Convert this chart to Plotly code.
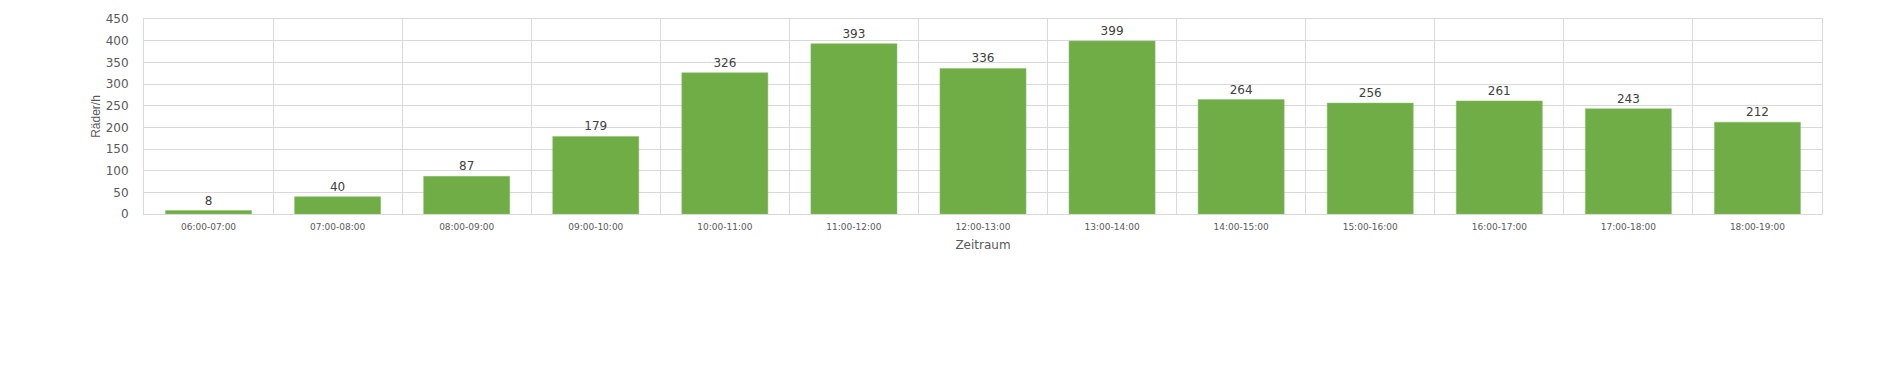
import plotly.graph_objects as go

categories = ["06:00-07:00", "07:00-08:00", "08:00-09:00", "09:00-10:00", "10:00-11:00",
              "11:00-12:00", "12:00-13:00", "13:00-14:00", "14:00-15:00", "15:00-16:00",
              "16:00-17:00", "17:00-18:00", "18:00-19:00"]
values = [8, 40, 87, 179, 326, 393, 336, 399, 264, 256, 261, 243, 212]
y_ticks = [0, 50, 100, 150, 200, 250, 300, 350, 400, 450]

text_color = "#404040"
tick_color = "#595959"
grid_color = "#d9d9d9"

fig = go.Figure(go.Bar(
    x=categories, y=values,
    marker=dict(color="#70AD47", line=dict(color="#8fbf6f", width=0.5)),
    text=[str(v) for v in values], textposition="outside", cliponaxis=False,
    textfont=dict(family="DejaVu Sans", size=12, color=text_color),
))

fig.update_layout(
    width=1903, height=367,
    margin=dict(l=144, r=81, t=15, b=153),
    paper_bgcolor="white", plot_bgcolor="white",
    bargap=0.333, showlegend=False,
    font=dict(family="DejaVu Sans", color=text_color),
)
fig.update_xaxes(
    type="category", tickson="boundaries", showgrid=True, gridcolor=grid_color, gridwidth=1,
    showline=True, linecolor=grid_color, mirror=True,
    ticks="", ticklabelstandoff=4, tickfont=dict(size=9, color=tick_color),
    title=dict(text="Zeitraum", font=dict(family="DejaVu Sans", size=12, color=tick_color), standoff=9),
)
fig.update_yaxes(
    range=[0, 450], tickvals=y_ticks, showgrid=True, gridcolor=grid_color, gridwidth=1,
    showline=True, linecolor=grid_color, mirror=True, zeroline=False,
    ticks="", ticklabelstandoff=12, tickfont=dict(size=12, color=tick_color),
    title=dict(text="Räder/h", font=dict(family="Liberation Sans Narrow, Liberation Sans", size=12, color=tick_color), standoff=2),
)

fig.write_html("out.html")
